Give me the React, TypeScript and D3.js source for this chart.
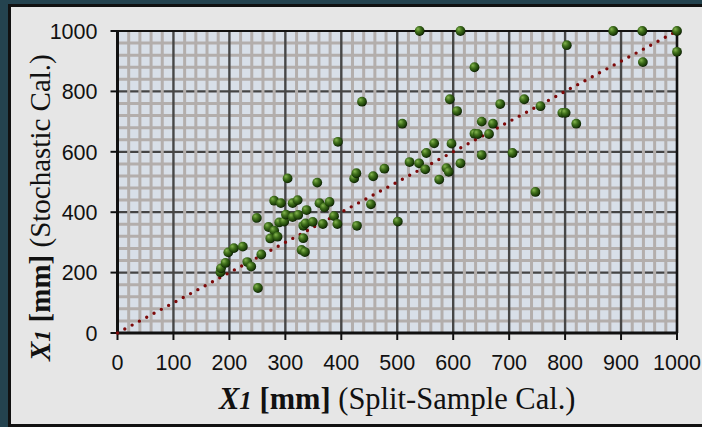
import React from "react";
import { scaleLinear, range } from "d3";

// split-sample calibration (x) vs stochastic calibration (y), mm
const splitSample = [
  184, 185, 193, 198, 208, 224, 232, 239, 251, 257,
  249, 270, 280, 273, 286, 289, 298, 280, 292, 301,
  304, 313, 322, 313, 323, 332, 336, 332, 329, 335,
  338, 349, 357, 361, 370, 379, 367, 387, 393, 394,
  423, 427, 428, 437, 453, 457, 477, 501, 509, 522,
  539, 540, 550, 552, 566, 575, 588, 592, 594, 597,
  607, 613, 613, 638, 638, 644, 651, 651, 664, 671,
  684, 706, 727, 747, 756, 795, 801, 803, 820, 886,
  938, 939, 1000, 1000,
];
const stochastic = [
  201, 214, 232, 267, 281, 286, 235, 220, 149, 260,
  381, 351, 339, 313, 319, 366, 369, 438, 430, 392,
  512, 430, 440, 384, 391, 355, 363, 314, 275, 268,
  407, 368, 498, 430, 416, 434, 361, 387, 361, 633,
  512, 529, 355, 766, 426, 519, 544, 369, 693, 566,
  562, 1000, 542, 596, 628, 508, 546, 534, 774, 627,
  735, 562, 1000, 880, 660, 659, 700, 589, 659, 693,
  758, 596, 774, 467, 751, 729, 729, 953, 693, 1000,
  1000, 897, 1000, 931,
];

const xTicks = [0, 100, 200, 300, 400, 500, 600, 700, 800, 900, 1000];
const yTicks = [0, 200, 400, 600, 800, 1000];

const W = 702;
const H = 427;
const plot = { left: 117.5, right: 677, top: 31, bottom: 333 };

export default function App() {
  const x = scaleLinear().domain([0, 1000]).range([plot.left, plot.right]);
  const y = scaleLinear().domain([0, 1000]).range([plot.bottom, plot.top]);

  const xMinor = range(20, 1000, 20).filter((v) => v % 100 !== 0);
  const yMinor = range(40, 1000, 40).filter((v) => v % 200 !== 0);
  const points = splitSample.map((d, i) => [d, stochastic[i]]);

  const serif = "'Liberation Serif', 'Times New Roman', serif";
  const sans = "'Liberation Sans', Arial, sans-serif";

  return (
    <svg
      width={W}
      height={H}
      style={{ position: "absolute", left: 0, top: 0 }}
    >
      <defs>
        <radialGradient id="ball" cx="40%" cy="38%" r="62%" fx="32%" fy="30%">
          <stop offset="0%" stopColor="#86b650" />
          <stop offset="45%" stopColor="#40701c" />
          <stop offset="85%" stopColor="#1b3d08" />
          <stop offset="100%" stopColor="#0c1c03" />
        </radialGradient>
      </defs>

      {/* frame */}
      <rect x={0} y={0} width={W} height={H} fill="#24434f" />
      <rect
        x={9.5}
        y={5.5}
        width={W}
        height={420}
        fill="#e6e6e6"
        stroke="#111"
        strokeWidth={3}
      />

      {/* plot background */}
      <rect
        x={plot.left}
        y={plot.top}
        width={plot.right - plot.left}
        height={plot.bottom - plot.top}
        fill="#d8dfe8"
      />

      {/* grid */}
      {yMinor.map((v) => (
        <line key={"ym" + v} x1={plot.left} x2={plot.right} y1={y(v)} y2={y(v)}
          stroke="#b3aeac" strokeWidth={3} />
      ))}
      {yTicks.slice(1, -1).map((v) => (
        <line key={"yM" + v} x1={plot.left} x2={plot.right} y1={y(v)} y2={y(v)}
          stroke="#444" strokeWidth={2.2} />
      ))}
      {xMinor.map((v) => (
        <line key={"xm" + v} x1={x(v)} x2={x(v)} y1={plot.top} y2={plot.bottom}
          stroke="#b3aeac" strokeWidth={3} />
      ))}
      {xTicks.slice(1, -1).map((v) => (
        <line key={"xM" + v} x1={x(v)} x2={x(v)} y1={plot.top} y2={plot.bottom}
          stroke="#474747" strokeWidth={2.4} />
      ))}

      {/* axes & border */}
      <line x1={plot.left} x2={plot.right} y1={plot.top} y2={plot.top} stroke="#111" strokeWidth={2.2} />
      <line x1={plot.right} x2={plot.right} y1={plot.top} y2={plot.bottom} stroke="#111" strokeWidth={2.6} />
      <line x1={plot.left} x2={plot.right + 1} y1={plot.bottom} y2={plot.bottom} stroke="#111" strokeWidth={3} />
      <line x1={plot.left} x2={plot.left} y1={plot.top - 1} y2={plot.bottom + 1} stroke="#111" strokeWidth={3} />
      {yTicks.map((v) => (
        <line key={"yt" + v} x1={plot.left - 7} x2={plot.left} y1={y(v)} y2={y(v)} stroke="#111" strokeWidth={2} />
      ))}
      {xTicks.map((v) => (
        <line key={"xt" + v} x1={x(v)} x2={x(v)} y1={plot.bottom} y2={plot.bottom + 7} stroke="#111" strokeWidth={2} />
      ))}

      {/* tick labels */}
      {yTicks.map((v) => (
        <text key={"yl" + v} x={plot.left - 20} y={y(v)} dy="0.36em" textAnchor="end"
          fontFamily={sans} fontSize={21.5} fill="#111">{v}</text>
      ))}
      {xTicks.map((v) => (
        <text key={"xl" + v} x={x(v)} y={370} textAnchor="middle"
          fontFamily={sans} fontSize={21.5} fill="#111">{v}</text>
      ))}

      {/* 1:1 line */}
      <line x1={x(0)} y1={y(0)} x2={x(1000)} y2={y(1000)} stroke="#7d0a0a"
        strokeWidth={3.4} strokeLinecap="round" strokeDasharray="0 8.3" />

      {/* points */}
      {points.map(([a, b], i) => (
        <circle key={i} cx={x(a)} cy={y(b)} r={4.9} fill="url(#ball)" />
      ))}

      {/* axis titles */}
      <text x={219} y={409} fontFamily={serif} fontSize={30.5} fill="#111">
        <tspan fontWeight="bold" fontStyle="italic">X</tspan>
        <tspan fontStyle="italic" fontSize={25} fontWeight="bold">1</tspan>
        <tspan fontWeight="bold"> [mm]</tspan>
        <tspan> (Split-Sample Cal.)</tspan>
      </text>
      <text transform="translate(50,361) rotate(-90)" fontFamily={serif} fontSize={29} fill="#111">
        <tspan fontWeight="bold" fontStyle="italic">X</tspan>
        <tspan fontStyle="italic" fontSize={24} fontWeight="bold">1</tspan>
        <tspan fontWeight="bold"> [mm]</tspan>
        <tspan> (Stochastic Cal.)</tspan>
      </text>
    </svg>
  );
}
